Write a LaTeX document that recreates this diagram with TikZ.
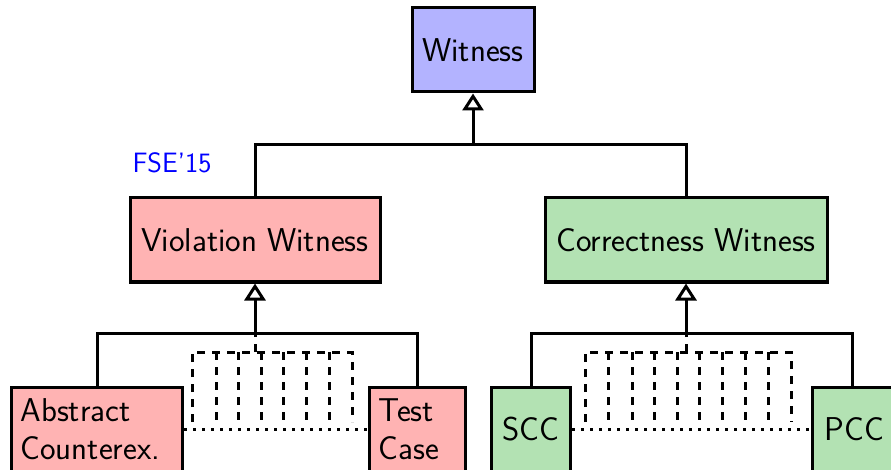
\documentclass[tikz,border=0pt]{standalone}
\usetikzlibrary{arrows.meta}
\definecolor{wblue}{RGB}{179,179,255}
\definecolor{wred}{RGB}{255,179,179}
\definecolor{wgreen}{RGB}{179,226,179}
\begin{document}
\begin{tikzpicture}[x=1pt,y=-1pt,line width=3pt,
  box/.style={draw,line width=3pt,inner sep=0pt,font=\fontsize{33}{38}\selectfont\sffamily},
  inherit/.style={-{Triangle[open,length=17pt,width=21pt,line width=3pt]}},
  elided/.style={dash pattern=on 8pt off 7pt},
  dotline/.style={dash pattern=on 3pt off 6pt}]
\useasboundingbox (0,0) rectangle (891,470);
\clip (0,0) rectangle (891,470);
% nodes
\node[box,fill=wblue,minimum width=122,minimum height=84] (w) at (473,50) {Witness};
\node[box,fill=wred,minimum width=250,minimum height=84] (v) at (255,240) {Violation Witness};
\node[box,fill=wgreen,minimum width=282,minimum height=84] (c) at (686,240) {Correctness Witness};
\node[box,fill=wred,minimum width=171,minimum height=84,text width=153,align=left,anchor=north west] (a) at (10,386) {Abstract\\Counterex.};
\node[box,fill=wred,minimum width=96,minimum height=84,text width=78,align=left,anchor=north west] (t) at (368,386) {Test\\Case};
\node[box,fill=wgreen,minimum width=79,minimum height=84,anchor=north west] (s) at (490,386) {SCC};
\node[box,fill=wgreen,minimum width=84,minimum height=84,text width=80,align=center,anchor=north west] (p) at (811,386) {PCC};
\node[text=blue,font=\fontsize{28}{32}\selectfont\sffamily,anchor=west,inner sep=0pt] (fse) at (131,163) {FSE'15};
% junctions
\coordinate (j1) at (473,145);
\coordinate (j2) at (255,333);
\coordinate (j3) at (686,333);
\coordinate (pt) at ([xshift=-2pt]p.north);
% top level
\draw (v.north) -- (v.north |- j1) -| (c.north);
\draw[inherit] (j1) -- (w.south);
% left subtree
\draw (a.north) -- (a.north |- j2) -| (t.north);
\draw[inherit] (j2) -- (v.south);
\draw[elided] (255,352) -- (j2);
\draw[elided] (192,422) -- (192,352) -- (352,352) -- (352,422);
\foreach \x in {216,238,261,283,306,329} \draw[elided] (\x,352) -- (\x,422);
\draw[dotline] (a.east) -- (t.west);
% right subtree
\draw (s.north) -- (s.north |- j3) -| (pt);
\draw[inherit] (j3) -- (c.south);
\draw[elided] (686,352) -- (j3);
\draw[elided] (585,422) -- (585,352) -- (791,352) -- (791,422);
\foreach \x in {608,632,654,677,699,722,745,768} \draw[elided] (\x,352) -- (\x,422);
\draw[dotline] (s.east) -- (p.west);
\end{tikzpicture}
\end{document}
